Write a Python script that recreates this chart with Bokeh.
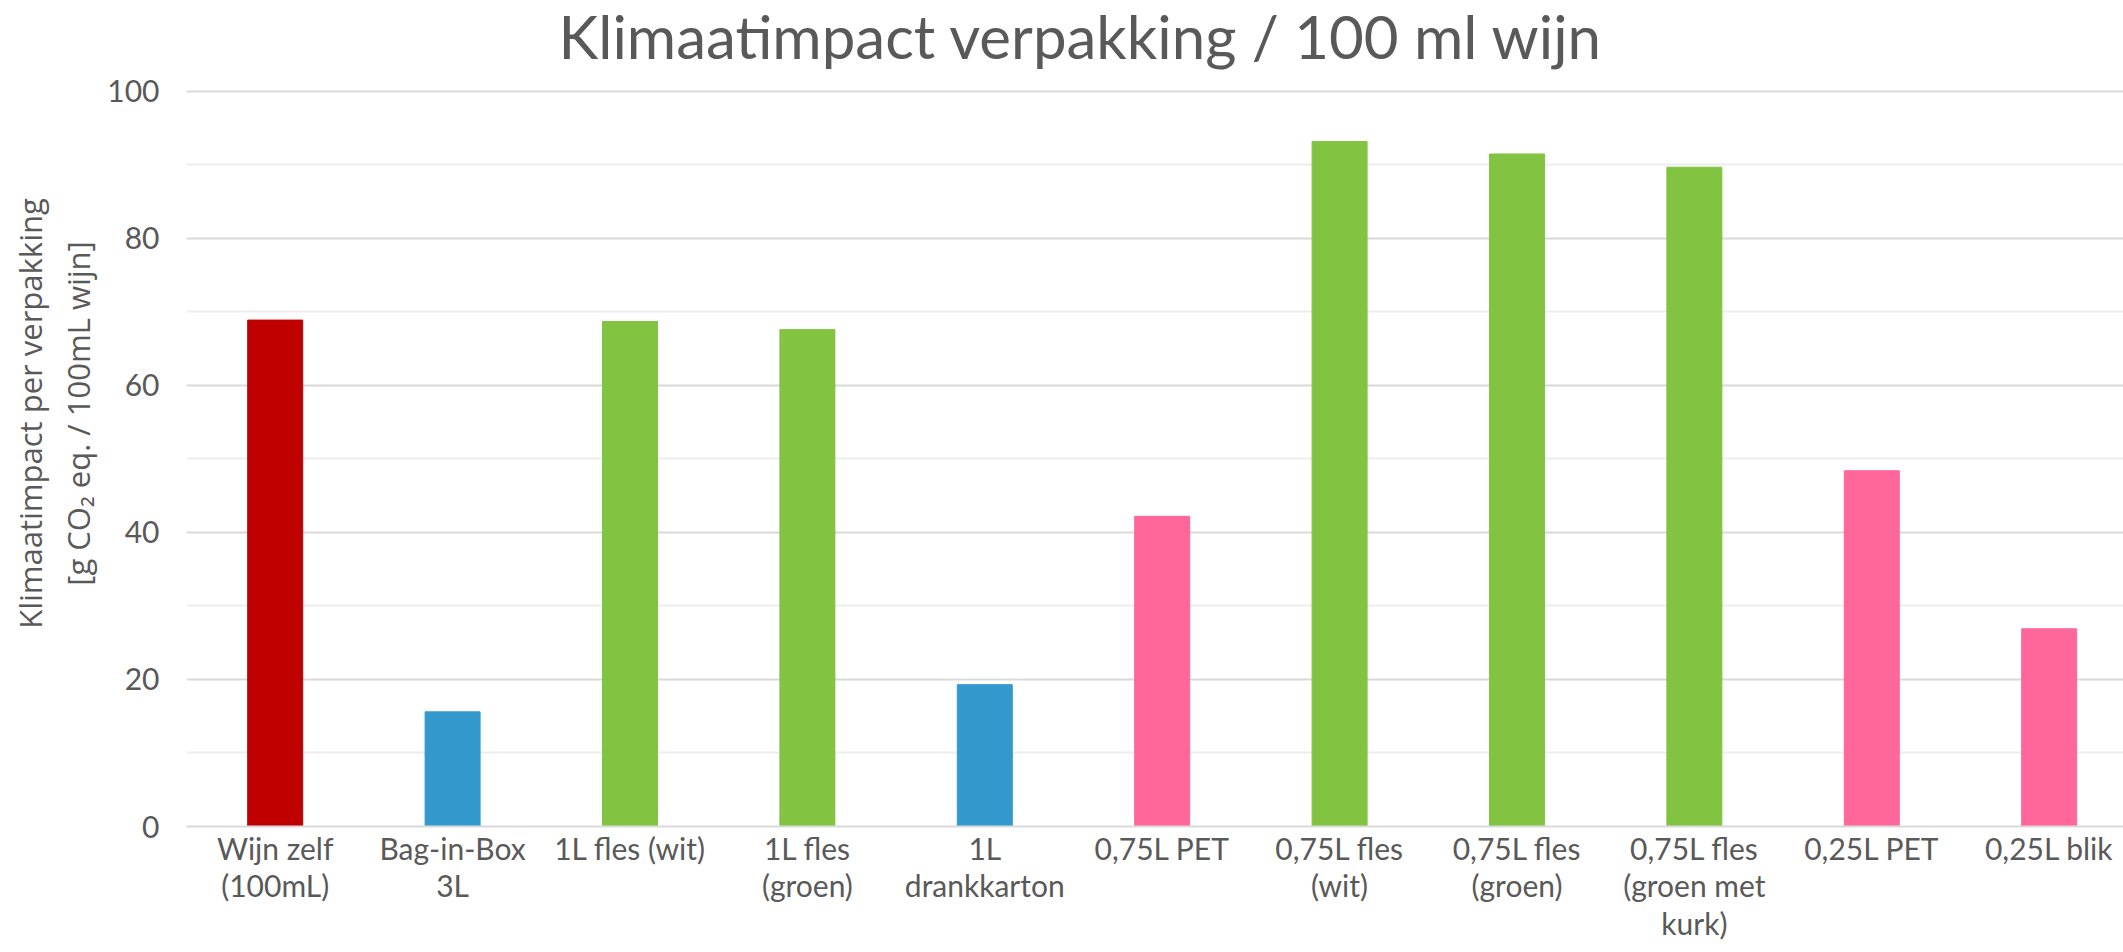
from bokeh.plotting import figure
from bokeh.models import Range1d, FixedTicker, ColumnDataSource, LinearAxis, Label
from bokeh.embed import file_html
from bokeh.resources import INLINE

# ---- data ----
categories = [
    "Wijn zelf\n(100mL)",
    "Bag-in-Box\n3L",
    "1L fles (wit)",
    "1L fles\n(groen)",
    "1L\ndrankkarton",
    "0,75L PET",
    "0,75L fles\n(wit)",
    "0,75L fles\n(groen)",
    "0,75L fles\n(groen met\nkurk)",
    "0,25L PET",
    "0,25L blik",
]
values = [68.9, 15.6, 68.7, 67.6, 19.3, 42.2, 93.2, 91.5, 89.7, 48.4, 26.9]
colors = ["#C00000", "#3399CC", "#82C341", "#82C341", "#3399CC", "#FF6699",
          "#82C341", "#82C341", "#82C341", "#FF6699", "#FF6699"]
y_ticks = [0, 20, 40, 60, 80, 100]
y_minor_ticks = [10, 30, 50, 70, 90]
title_text = "Klimaatimpact verpakking / 100 ml wijn"
y_label_line1 = "Klimaatimpact per verpakking"
y_label_line2 = "[g CO\u2082 eq. / 100mL wijn]"

positions = [i + 0.5 for i in range(len(categories))]
source = ColumnDataSource(dict(x=positions, top=values, color=colors))

GREY = "#595959"

# frame spans from the top of the canvas; the value axis tops out at 100,
# the head room above it holds the chart title
p = figure(width=2123, height=952, output_backend="svg", toolbar_location=None,
           x_range=Range1d(0, 10.919), y_range=Range1d(0, 112.38),
           min_border_left=186, min_border_right=0, min_border_top=0,
           min_border_bottom=126)
p.outline_line_color = None
p.background_fill_color = "white"
p.border_fill_color = "white"

title = Label(x=2.097, y=107.5, text=title_text, text_font="Lato",
              text_font_size="60px", text_color=GREY, text_align="left",
              text_baseline="alphabetic")
p.add_layout(title)

p.vbar(x="x", top="top", bottom=0, width=0.31, color="color", source=source)

# y axis (tick labels + second line of the axis title)
p.yaxis.ticker = FixedTicker(ticks=y_ticks, minor_ticks=y_minor_ticks)
p.yaxis.axis_line_color = None
p.yaxis.major_tick_line_color = None
p.yaxis.minor_tick_line_color = None
p.yaxis.major_tick_out = 0
p.yaxis.major_tick_in = 0
p.yaxis.minor_tick_out = 0
p.yaxis.minor_tick_in = 0
p.yaxis.major_label_text_font = "Lato"
p.yaxis.major_label_text_font_size = "30px"
p.yaxis.major_label_text_color = GREY
p.yaxis.major_label_standoff = 27
p.yaxis.axis_label = y_label_line2
p.yaxis.axis_label_text_font = "Open Sans"
p.yaxis.axis_label_text_font_size = "31px"
p.yaxis.axis_label_text_font_style = "normal"
p.yaxis.axis_label_text_color = GREY
p.yaxis.axis_label_standoff = 5

# outer axis that only carries the first line of the axis title
outer = LinearAxis(ticker=FixedTicker(ticks=[]), axis_label=y_label_line1)
outer.axis_line_color = None
outer.major_tick_line_color = None
outer.minor_tick_line_color = None
outer.major_tick_out = 0
outer.major_tick_in = 0
outer.minor_tick_out = 0
outer.minor_tick_in = 0
outer.major_label_standoff = 0
outer.axis_label_standoff = 4
outer.axis_label_text_font = "Open Sans"
outer.axis_label_text_font_size = "31px"
outer.axis_label_text_font_style = "normal"
outer.axis_label_text_color = GREY
p.add_layout(outer, "left")

# x axis
p.xaxis.ticker = FixedTicker(ticks=positions)
p.xaxis.major_label_overrides = {pos: lab for pos, lab in zip(positions, categories)}
p.xaxis.axis_line_color = "#D9D9D9"
p.xaxis.axis_line_width = 2
p.xaxis.major_tick_line_color = None
p.xaxis.minor_tick_line_color = None
p.xaxis.major_tick_out = 0
p.xaxis.major_tick_in = 0
p.xaxis.major_label_text_font = "Lato"
p.xaxis.major_label_text_font_size = "30px"
p.xaxis.major_label_text_color = GREY
p.xaxis.major_label_text_line_height = 1.05
p.xaxis.major_label_standoff = 3

# grid
p.xgrid.visible = False
p.ygrid.grid_line_color = "#D9D9D9"
p.ygrid.grid_line_width = 2
p.ygrid.minor_grid_line_color = "#EDEDED"
p.ygrid.minor_grid_line_width = 2

open("out.html", "w").write(file_html(p, INLINE))
